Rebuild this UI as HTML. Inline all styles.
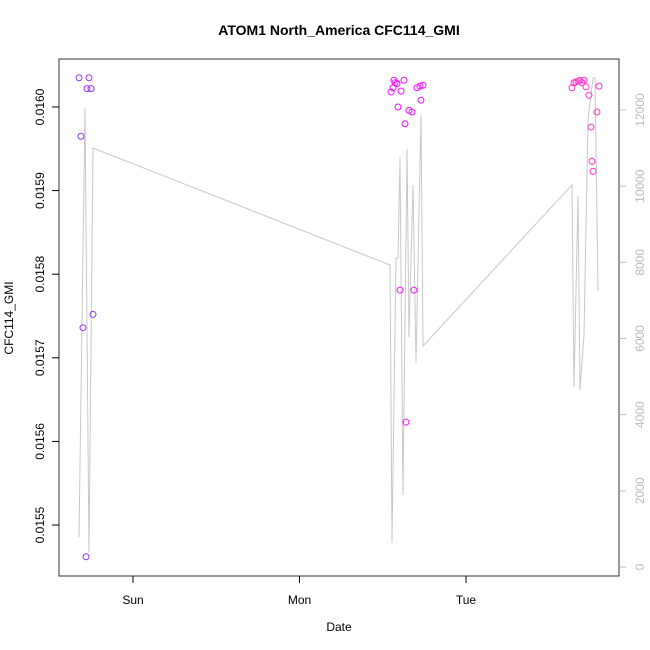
<!DOCTYPE html>
<html><head><meta charset="utf-8"><style>
body{margin:0;background:#fff}
svg{display:block;font-family:"Liberation Sans",sans-serif}
</style></head><body>
<svg id="chart" width="650" height="650" viewBox="0 0 650 650" xmlns="http://www.w3.org/2000/svg">
<rect width="650" height="650" fill="#fff"/>
<text x="339" y="35" font-size="14" font-weight="bold" text-anchor="middle">ATOM1 North_America CFC114_GMI</text>
<text x="339" y="631" font-size="12" text-anchor="middle">Date</text>
<text transform="translate(13,318) rotate(-90)" font-size="12" text-anchor="middle">CFC114_GMI</text>
<rect x="59" y="59" width="560" height="517" fill="none" stroke="#333" stroke-width="1"/>
<g id="axes"></g>
<g id="marks"></g>
</svg>
<script>
const xTickLabels = ["Sun","Mon","Tue"];
const xTickHours = [0,24,48];
const yTicks = [0.0155,0.0156,0.0157,0.0158,0.0159,0.0160];
const yTickLabels = ["0.0155","0.0156","0.0157","0.0158","0.0159","0.0160"];
const y2Ticks = [0,2000,4000,6000,8000,10000,12000];
const y2TickLabels = ["0","2000","4000","6000","8000","10000","12000"];

const pointHours = [-7.78,-6.34,-6.63,-6.05,-7.50,-5.77,-7.21,-6.77,
 37.62,37.77,38.05,37.19,37.48,39.06,38.63,38.20,39.78,40.22,40.94,41.37,41.80,41.51,39.21,38.49,40.50,39.35,
 63.28,63.57,63.86,64.14,64.43,64.72,65.30,65.73,66.02,66.16,66.31,66.88,67.17,65.01];
const pointValues = [0.016035,0.016035,0.016022,0.016022,0.015965,0.015752,0.015736,0.015462,
 0.016032,0.016029,0.016028,0.016018,0.016023,0.016032,0.016019,0.016000,0.015996,0.015994,0.016023,0.016025,0.016026,0.016008,0.015980,0.015781,0.015781,0.015623,
 0.016023,0.016029,0.016030,0.016031,0.016032,0.016029,0.016024,0.016014,0.015976,0.015935,0.015923,0.015994,0.016025,0.016032];
const lineHours = [-7.78,-6.92,-6.34,-5.77,37.05,37.33,37.91,38.20,38.49,38.92,39.50,39.78,40.36,40.79,41.51,41.80,63.28,63.57,64.14,64.43,65.01,65.59,66.31,66.59,67.03];
const lineValues = [788,12053,394,11003,7931,630,8114,8114,10767,1891,10977,6040,10031,5357,11870,5803,10031,4727,9742,4648,6092,11738,12841,12841,7248];

const NS="http://www.w3.org/2000/svg";
function xS(h){return 133+h*166.5/24;}
function yS(v){return 525-(v-0.0155)/0.0001*83.6;}
function y2S(v){return 567-v/12000*457;}
function mk(tag,attrs,parent){const e=document.createElementNS(NS,tag);for(const k in attrs)e.setAttribute(k,attrs[k]);parent.appendChild(e);return e;}
const axes=document.getElementById('axes'), marks=document.getElementById('marks');

xTickHours.forEach((h,i)=>{
  const x=xS(h);
  const t=mk('line',{x1:x,x2:x,y1:576,y2:583,stroke:'#000'},axes);
  
  
  const l=mk('text',{x:x,y:604,'font-size':12,'text-anchor':'middle'},axes);
  l.textContent=xTickLabels[i];
  
  
});
yTicks.forEach((v,i)=>{
  const y=yS(v);
  const t=mk('line',{x1:52,x2:59,y1:y,y2:y,stroke:'#000'},axes);
  
  
  const l=mk('text',{transform:`translate(44,${y}) rotate(-90)`,'font-size':12,'text-anchor':'middle'},axes);
  l.textContent=yTickLabels[i];
  
  
});
y2Ticks.forEach((v,i)=>{
  const y=y2S(v);
  const t=mk('line',{x1:619,x2:626,y1:y,y2:y,stroke:'#bbb'},axes);
  
  
  const l=mk('text',{transform:`translate(644,${y}) rotate(-90)`,'font-size':12,'text-anchor':'middle',fill:'#bbb'},axes);
  l.textContent=y2TickLabels[i];
  
  
});
const pts=lineHours.map((h,i)=>xS(h).toFixed(1)+','+y2S(lineValues[i]).toFixed(1)).join(' ');
const pl=mk('polyline',{points:pts,fill:'none',stroke:'#c8c8c8','stroke-width':1},marks);


function col(h){ if(h<10) return '#9933ff'; if(h<50) return '#ee11ff'; return '#ff33cc'; }
pointHours.forEach((h,i)=>{
  const c=mk('circle',{cx:xS(h),cy:yS(pointValues[i]),r:3,fill:'none',stroke:col(h),'stroke-width':1},marks);
  
  
});
</script>
</body></html>
